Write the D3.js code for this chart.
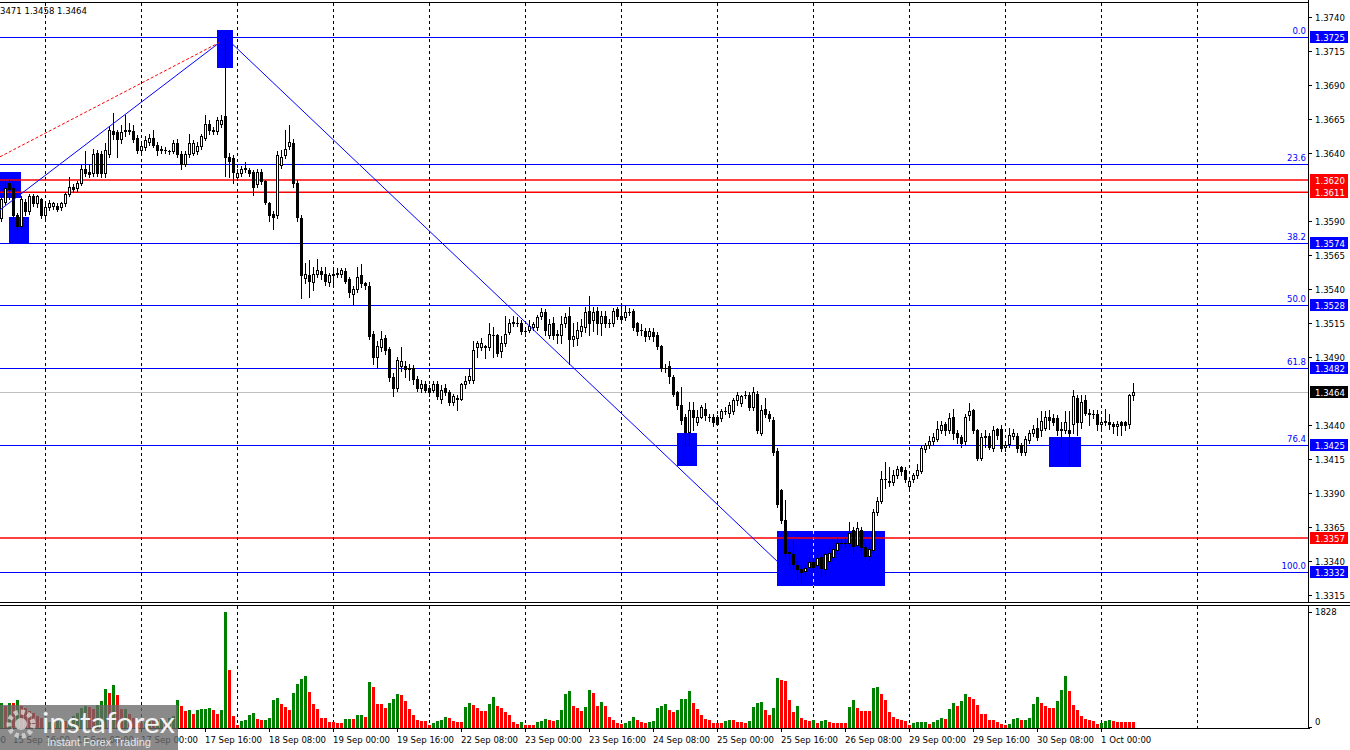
<!DOCTYPE html>
<html><head><meta charset="utf-8">
<script src="https://cdn.jsdelivr.net/npm/d3@7"></script>
<style>body{margin:0;background:#fff;overflow:hidden}svg{display:block}</style>
</head><body>
<svg id="chart" width="1350" height="750"></svg>
<script>
// ---------- DATA (GBPUSD H1, bar 0 = 16 Sep 2025 00:00) ----------
const firstBar = -11;
const ohlc = [
// 15 Sep 13:00 ..
[1.3592,1.3609,1.3590,1.3606],[1.3604,1.3619,1.3602,1.3614],[1.3618,1.3620,1.3606,1.3613],[1.3614,1.3617,1.3592,1.3594],
[1.3594,1.3596,1.3583,1.3586],[1.3586,1.3608,1.3584,1.3606],[1.3604,1.3606,1.3594,1.3597],[1.3597,1.3610,1.3595,1.3608],
[1.3608,1.3610,1.3601,1.3603],[1.3603,1.3609,1.3600,1.3608],[1.3606,1.3607,1.3592,1.3594],
// 16 Sep
[1.3594,1.3602,1.3590,1.3600],[1.3600,1.3605,1.3598,1.3603],[1.3601,1.3604,1.3599,1.3603],[1.3601,1.3603,1.3597,1.3599],
[1.3600,1.3604,1.3598,1.3603],[1.3603,1.3611,1.3601,1.3610],[1.3610,1.3622,1.3608,1.3615],[1.3615,1.3617,1.3611,1.3613],
[1.3614,1.3619,1.3612,1.3618],[1.3618,1.3631,1.3616,1.3628],[1.3628,1.3641,1.3623,1.3625],[1.3626,1.3632,1.3622,1.3624],
[1.3625,1.3643,1.3623,1.3639],[1.3640,1.3642,1.3623,1.3625],[1.3639,1.3641,1.3622,1.3625],[1.3625,1.3647,1.3622,1.3642],
[1.3639,1.3659,1.3637,1.3657],[1.3656,1.3669,1.3650,1.3654],[1.3655,1.3657,1.3637,1.3650],[1.3650,1.3660,1.3647,1.3655],
[1.3656,1.3668,1.3652,1.3657],[1.3656,1.3662,1.3654,1.3657],[1.3656,1.3660,1.3648,1.3650],[1.3651,1.3653,1.3640,1.3642],
// 17 Sep
[1.3642,1.3647,1.3638,1.3645],[1.3644,1.3652,1.3642,1.3649],[1.3648,1.3654,1.3646,1.3651],[1.3651,1.3657,1.3644,1.3646],
[1.3646,1.3648,1.3638,1.3642],[1.3643,1.3645,1.3640,1.3642],[1.3642,1.3644,1.3640,1.3642],[1.3641,1.3642,1.3639,1.3641],
[1.3641,1.3649,1.3640,1.3647],[1.3647,1.3650,1.3637,1.3639],[1.3639,1.3641,1.3628,1.3632],[1.3632,1.3641,1.3630,1.3639],
[1.3639,1.3654,1.3637,1.3647],[1.3640,1.3649,1.3638,1.3647],[1.3641,1.3648,1.3639,1.3645],[1.3645,1.3654,1.3643,1.3652],
[1.3651,1.3668,1.3649,1.3661],[1.3661,1.3664,1.3654,1.3657],[1.3657,1.3659,1.3654,1.3656],[1.3656,1.3666,1.3654,1.3664],
[1.3661,1.3668,1.3659,1.3664],[1.3667,1.3725,1.3623,1.3637],[1.3637,1.3640,1.3622,1.3634],[1.3636,1.3638,1.3618,1.3626],
// 18 Sep
[1.3622,1.3628,1.3620,1.3625],[1.3625,1.3630,1.3623,1.3628],[1.3628,1.3633,1.3626,1.3629],[1.3627,1.3629,1.3623,1.3625],
[1.3626,1.3627,1.3609,1.3615],[1.3617,1.3628,1.3615,1.3626],[1.3626,1.3628,1.3617,1.3619],[1.3619,1.3620,1.3602,1.3604],
[1.3603,1.3604,1.3590,1.3594],[1.3595,1.3597,1.3584,1.3593],[1.3594,1.3641,1.3592,1.3638],[1.3631,1.3642,1.3629,1.3637],
[1.3638,1.3657,1.3636,1.3643],[1.3645,1.3660,1.3643,1.3648],[1.3647,1.3650,1.3615,1.3618],[1.3618,1.3620,1.3590,1.3593],
[1.3592,1.3594,1.3533,1.3550],[1.3548,1.3559,1.3544,1.3551],[1.3550,1.3561,1.3534,1.3546],[1.3545,1.3556,1.3539,1.3551],
[1.3551,1.3562,1.3549,1.3554],[1.3553,1.3556,1.3547,1.3551],[1.3551,1.3556,1.3543,1.3546],[1.3545,1.3552,1.3542,1.3550],
// 19 Sep
[1.3550,1.3554,1.3542,1.3551],[1.3551,1.3555,1.3549,1.3552],[1.3551,1.3555,1.3549,1.3554],[1.3553,1.3555,1.3544,1.3546],
[1.3547,1.3549,1.3534,1.3538],[1.3536,1.3542,1.3529,1.3540],[1.3540,1.3556,1.3538,1.3549],[1.3550,1.3558,1.3541,1.3544],
[1.3544,1.3545,1.3540,1.3543],[1.3542,1.3545,1.3503,1.3505],[1.3507,1.3509,1.3485,1.3490],[1.3490,1.3502,1.3482,1.3498],
[1.3497,1.3509,1.3494,1.3503],[1.3504,1.3506,1.3492,1.3495],[1.3496,1.3497,1.3472,1.3475],[1.3475,1.3478,1.3461,1.3467],
[1.3467,1.3490,1.3465,1.3488],[1.3483,1.3497,1.3480,1.3487],[1.3483,1.3487,1.3475,1.3481],[1.3481,1.3485,1.3473,1.3482],
[1.3482,1.3484,1.3470,1.3474],[1.3474,1.3476,1.3465,1.3467],[1.3467,1.3473,1.3464,1.3470],[1.3470,1.3472,1.3464,1.3466],
// 22 Sep
[1.3467,1.3469,1.3461,1.3464],[1.3466,1.3472,1.3464,1.3470],[1.3470,1.3472,1.3459,1.3461],[1.3459,1.3469,1.3456,1.3466],
[1.3467,1.3470,1.3462,1.3464],[1.3464,1.3466,1.3455,1.3457],[1.3457,1.3463,1.3455,1.3461],[1.3460,1.3462,1.3451,1.3459],
[1.3459,1.3471,1.3458,1.3470],[1.3470,1.3476,1.3467,1.3472],[1.3473,1.3482,1.3471,1.3476],[1.3473,1.3502,1.3471,1.3495],
[1.3497,1.3502,1.3490,1.3500],[1.3497,1.3504,1.3495,1.3500],[1.3498,1.3499,1.3489,1.3497],[1.3497,1.3515,1.3495,1.3507],
[1.3506,1.3512,1.3490,1.3506],[1.3506,1.3507,1.3491,1.3493],[1.3494,1.3505,1.3490,1.3500],[1.3500,1.3520,1.3498,1.3507],
[1.3508,1.3518,1.3507,1.3515],[1.3516,1.3520,1.3513,1.3515],[1.3515,1.3519,1.3513,1.3515],[1.3515,1.3517,1.3507,1.3509],
// 23 Sep
[1.3509,1.3512,1.3505,1.3509],[1.3510,1.3517,1.3508,1.3513],[1.3512,1.3516,1.3510,1.3514],[1.3512,1.3521,1.3510,1.3519],
[1.3520,1.3526,1.3518,1.3523],[1.3523,1.3525,1.3506,1.3510],[1.3506,1.3518,1.3504,1.3514],[1.3515,1.3519,1.3503,1.3506],
[1.3507,1.3510,1.3500,1.3506],[1.3506,1.3520,1.3500,1.3514],[1.3515,1.3522,1.3512,1.3519],[1.3520,1.3527,1.3485,1.3503],
[1.3503,1.3515,1.3498,1.3505],[1.3504,1.3516,1.3499,1.3510],[1.3509,1.3518,1.3505,1.3513],[1.3512,1.3527,1.3508,1.3523],
[1.3524,1.3535,1.3506,1.3515],[1.3517,1.3527,1.3509,1.3523],[1.3524,1.3527,1.3507,1.3515],[1.3515,1.3524,1.3506,1.3520],
[1.3520,1.3524,1.3512,1.3515],[1.3515,1.3518,1.3512,1.3515],[1.3515,1.3526,1.3513,1.3524],[1.3525,1.3527,1.3518,1.3520],
// 24 Sep
[1.3520,1.3528,1.3515,1.3518],[1.3519,1.3528,1.3517,1.3523],[1.3523,1.3526,1.3521,1.3523],[1.3524,1.3525,1.3510,1.3512],
[1.3515,1.3516,1.3506,1.3509],[1.3510,1.3514,1.3506,1.3510],[1.3509,1.3511,1.3502,1.3505],[1.3505,1.3511,1.3503,1.3509],
[1.3508,1.3511,1.3502,1.3505],[1.3506,1.3508,1.3496,1.3498],[1.3498,1.3499,1.3480,1.3482],[1.3482,1.3485,1.3479,1.3482],
[1.3483,1.3487,1.3471,1.3476],[1.3475,1.3477,1.3461,1.3463],[1.3464,1.3465,1.3452,1.3455],[1.3455,1.3468,1.3441,1.3444],
[1.3446,1.3448,1.3425,1.3435],[1.3435,1.3457,1.3425,1.3451],[1.3451,1.3457,1.3436,1.3446],[1.3442,1.3451,1.3440,1.3446],
[1.3446,1.3455,1.3445,1.3453],[1.3452,1.3456,1.3444,1.3447],[1.3446,1.3448,1.3443,1.3446],[1.3446,1.3448,1.3439,1.3442],
// 25 Sep
[1.3446,1.3447,1.3440,1.3441],[1.3445,1.3452,1.3443,1.3450],[1.3450,1.3453,1.3448,1.3450],[1.3449,1.3457,1.3446,1.3455],
[1.3450,1.3460,1.3448,1.3458],[1.3458,1.3464,1.3455,1.3462],[1.3456,1.3462,1.3454,1.3461],[1.3462,1.3465,1.3460,1.3462],
[1.3462,1.3464,1.3451,1.3453],[1.3453,1.3468,1.3451,1.3464],[1.3463,1.3465,1.3434,1.3436],[1.3434,1.3455,1.3433,1.3451],
[1.3452,1.3460,1.3446,1.3448],[1.3448,1.3450,1.3443,1.3445],[1.3444,1.3446,1.3418,1.3420],[1.3421,1.3423,1.3380,1.3382],
[1.3392,1.3393,1.3368,1.3370],[1.3370,1.3385,1.3344,1.3346],[1.3347,1.3350,1.3338,1.3346],[1.3345,1.3355,1.3335,1.3338],
[1.3337,1.3340,1.3327,1.3334],[1.3334,1.3337,1.3324,1.3332],[1.3333,1.3337,1.3330,1.3335],[1.3336,1.3343,1.3333,1.3339],
// 26 Sep
[1.3339,1.3342,1.3332,1.3336],[1.3337,1.3345,1.3335,1.3342],[1.3343,1.3345,1.3329,1.3335],[1.3334,1.3347,1.3330,1.3345],
[1.3340,1.3350,1.3338,1.3346],[1.3343,1.3352,1.3341,1.3349],[1.3348,1.3357,1.3346,1.3353],[1.3353,1.3356,1.3350,1.3353],
[1.3353,1.3357,1.3350,1.3353],[1.3353,1.3369,1.3351,1.3361],[1.3363,1.3365,1.3345,1.3351],[1.3352,1.3369,1.3350,1.3364],
[1.3363,1.3365,1.3345,1.3350],[1.3350,1.3353,1.3342,1.3344],[1.3344,1.3352,1.3341,1.3349],[1.3348,1.3378,1.3346,1.3376],
[1.3376,1.3387,1.3374,1.3384],[1.3384,1.3406,1.3383,1.3400],[1.3400,1.3413,1.3394,1.3400],[1.3398,1.3409,1.3395,1.3399],
[1.3398,1.3407,1.3396,1.3403],[1.3403,1.3410,1.3401,1.3408],[1.3409,1.3410,1.3403,1.3406],[1.3407,1.3409,1.3398,1.3400],
// 29 Sep
[1.3395,1.3402,1.3392,1.3399],[1.3400,1.3405,1.3398,1.3403],[1.3403,1.3411,1.3401,1.3407],[1.3406,1.3425,1.3405,1.3423],
[1.3422,1.3427,1.3420,1.3425],[1.3425,1.3432,1.3423,1.3428],[1.3428,1.3434,1.3425,1.3431],[1.3430,1.3443,1.3428,1.3437],
[1.3436,1.3443,1.3434,1.3440],[1.3441,1.3442,1.3433,1.3436],[1.3436,1.3449,1.3434,1.3445],[1.3446,1.3452,1.3430,1.3434],
[1.3434,1.3436,1.3427,1.3431],[1.3431,1.3433,1.3424,1.3427],[1.3428,1.3448,1.3425,1.3446],[1.3447,1.3456,1.3444,1.3450],
[1.3451,1.3452,1.3434,1.3436],[1.3436,1.3437,1.3414,1.3416],[1.3416,1.3434,1.3414,1.3431],[1.3432,1.3436,1.3424,1.3431],
[1.3432,1.3434,1.3422,1.3424],[1.3423,1.3439,1.3421,1.3436],[1.3437,1.3438,1.3430,1.3433],[1.3437,1.3440,1.3421,1.3423],
// 30 Sep
[1.3424,1.3428,1.3421,1.3425],[1.3426,1.3438,1.3424,1.3433],[1.3432,1.3437,1.3430,1.3434],[1.3432,1.3434,1.3420,1.3423],
[1.3425,1.3427,1.3418,1.3420],[1.3420,1.3432,1.3418,1.3430],[1.3429,1.3436,1.3427,1.3434],[1.3434,1.3440,1.3432,1.3437],
[1.3438,1.3445,1.3429,1.3431],[1.3436,1.3450,1.3432,1.3443],[1.3438,1.3450,1.3436,1.3446],[1.3446,1.3451,1.3437,1.3444],
[1.3445,1.3448,1.3440,1.3442],[1.3445,1.3447,1.3433,1.3436],[1.3437,1.3442,1.3424,1.3436],[1.3436,1.3450,1.3434,1.3442],
[1.3436,1.3450,1.3411,1.3434],[1.3441,1.3466,1.3434,1.3461],[1.3460,1.3462,1.3433,1.3442],[1.3442,1.3462,1.3438,1.3457],
[1.3458,1.3462,1.3447,1.3449],[1.3449,1.3452,1.3440,1.3448],[1.3448,1.3451,1.3445,1.3448],[1.3448,1.3451,1.3436,1.3441],
// 1 Oct
[1.3441,1.3444,1.3438,1.3442],[1.3443,1.3452,1.3440,1.3442],[1.3442,1.3448,1.3437,1.3441],[1.3441,1.3442,1.3434,1.3439],
[1.3439,1.3443,1.3433,1.3441],[1.3442,1.3443,1.3433,1.3440],[1.3442,1.3443,1.3436,1.3440],[1.3441,1.3463,1.3438,1.3462],
[1.3462,1.3471,1.3458,1.3464]
];
const volume = [
380,340,380,375,425,330,300,260,230,180,140,
60,80,70,90,110,100,130,180,230,300,
330,320,280,350,420,607,545,675,503,285,
290,200,150,100,60,80,100,90,110,120,
100,150,180,425,337,250,270,208,270,285,
290,295,270,208,270,1828,908,171,36,88,
104,192,223,130,104,119,145,425,457,363,
311,270,535,690,768,815,555,363,285,140,
139,78,77,67,66,130,131,129,192,193,
156,711,633,363,360,296,379,452,519,510,
415,285,192,104,100,98,36,62,88,114,
156,140,88,86,84,322,379,348,296,259,
254,363,477,337,301,233,192,78,52,78,
36,35,34,78,93,130,104,103,119,270,
519,571,337,296,259,311,587,535,337,400,
337,156,104,67,52,67,88,166,104,78,
67,80,93,296,327,363,270,244,270,441,
445,566,379,285,192,130,104,67,66,65,
88,114,110,78,77,67,88,322,379,400,
270,192,301,778,752,727,431,244,337,145,
119,88,104,67,93,114,78,67,66,65,
64,322,425,301,259,258,257,612,633,519,
425,244,166,130,104,103,36,62,78,79,
80,52,78,104,145,130,285,379,337,415,
529,477,441,348,208,207,119,104,78,52,
36,52,130,145,104,119,145,363,477,389,
337,296,295,415,587,815,571,353,275,171,
130,104,88,52,67,88,119,88,87,86,
85,84,83
];
const fibNames  = ["0.0","23.6","38.2","50.0","61.8","76.4","100.0"];
const fibPrices = [1.3725,1.3632,1.3574,1.3528,1.3482,1.3425,1.3332];
const fibTagged = [true,false,true,true,true,true,true];
const redLevels = [1.3620,1.3611,1.3357];
const bidPrice = 1.3464;
const priceTicks = [1.3740,1.3715,1.3690,1.3665,1.3640,1.3590,1.3565,1.3540,1.3515,1.3490,1.3440,1.3415,1.3390,1.3365,1.3340,1.3315];
const volTicks = [1828, 0];
const headerText = "3471 1.3458 1.3464";
const gridDays = ["2025-09-16","2025-09-17","2025-09-18","2025-09-19","2025-09-22","2025-09-23","2025-09-24","2025-09-25","2025-09-26","2025-09-29","2025-09-30","2025-10-01","2025-10-02"];
// rectangles: [bar from, bar to, price top, price bottom]
const boxes = [[-12,-6,1.3626,1.3607],[-9,-4,1.3593,1.3573],[43,47,1.3730,1.3702],[158,163,1.3434,1.3410],[183,210,1.3362,1.3322],[251,259,1.3431,1.3409]];
// trend lines: [bar1, price1, bar2, price2]
const blueLines = [[45,1.3725,183,1.3340],[-11.25,1.3598,45,1.3724]];
const redDotted = [[-11.25,1.3637,44.25,1.3722]];

// ---------- helpers ----------
const HOUR = 3600000, T0 = Date.UTC(2025,8,16,0,0);
function barTime(b){
  let t=T0, n=Math.abs(b), s=b>=0?1:-1;
  while(n>0){ t+=s*HOUR; const d=new Date(t).getUTCDay(); if(d!==0&&d!==6) n--; }
  return new Date(t);
}
function barOf(date){
  let b=0; while(barTime(b).getTime()<date.getTime()) b+=24; return b;
}
const fmt = d3.utcFormat("%-d %b %H:%M");

const svg = d3.select("#chart");
const W=1350, AX=1308;
const x = d3.scaleLinear().domain([-11.25, 315.75]).range([0, AX]);
const y = d3.scaleLinear().domain([1.3725, 1.3332]).range([37, 572]);
const vy = d3.scaleLinear().domain([0, 1828]).range([727, 612]);
const FONT = "'DejaVu Sans Condensed','DejaVu Sans',sans-serif";

svg.append("rect").attr("width",W).attr("height",750).attr("fill","#fff");
svg.append("defs").html('<clipPath id="mainClip"><rect x="0" y="3" width="1308" height="599"/></clipPath><clipPath id="volClip"><rect x="0" y="606" width="1308" height="122"/></clipPath>');

const main = svg.append("g").attr("clip-path","url(#mainClip)").attr("shape-rendering","crispEdges");
const vol  = svg.append("g").attr("clip-path","url(#volClip)").attr("shape-rendering","crispEdges");

// boxes
const boxPix = boxes.map(d=>({x0:x(d[0]),x1:x(d[1]),y0:y(d[2]),y1:y(d[3])}));
main.selectAll("rect.box").data(boxPix).join("rect").attr("class","box")
  .attr("x",d=>d.x0).attr("width",d=>d.x1-d.x0)
  .attr("y",d=>d.y0).attr("height",d=>d.y1-d.y0).attr("fill","#0000ff");

// vertical grid: black dashes, shown inverted (yellow) over the blue boxes
const gridBars = gridDays.map(s=>barOf(new Date(s+"T00:00:00Z")));
[[main,3,602],[vol,606,728]].forEach(([g,y0,y1])=>{
  g.selectAll(null).data(gridBars).join("line")
   .attr("x1",b=>Math.round(x(b))+0.5).attr("x2",b=>Math.round(x(b))+0.5)
   .attr("y1",y0).attr("y2",y1).attr("stroke","#000").attr("stroke-dasharray","3,3");
});
gridBars.forEach(b=>{
  const gx=Math.round(x(b))+0.5;
  boxPix.forEach(bx=>{
    if(gx>bx.x0 && gx<bx.x1){
      const off=((bx.y0-3)%6+6)%6;
      main.append("line").attr("x1",gx).attr("x2",gx).attr("y1",bx.y0).attr("y2",bx.y1)
        .attr("stroke","#ffff00").attr("stroke-dasharray","3,3").attr("stroke-dashoffset",off);
    }
  });
});

// horizontal levels
function hline(p,color){
  const yy=Math.round(y(p))+0.5;
  main.append("line").attr("x1",0).attr("x2",AX).attr("y1",yy).attr("y2",yy).attr("stroke",color).attr("stroke-width",1);
}
hline(bidPrice,"#c0c0c0");
fibPrices.forEach(p=>hline(p,"#0000ff"));
redLevels.forEach(p=>{
  const yy=y(p);
  main.append("line").attr("x1",0).attr("x2",AX).attr("y1",yy).attr("y2",yy).attr("stroke","#ff0000").attr("stroke-width",1.6).attr("shape-rendering","auto");
});
// trend lines
const tl = svg.append("g").attr("clip-path","url(#mainClip)");
tl.selectAll(null).data(blueLines).join("line")
  .attr("x1",d=>x(d[0])).attr("y1",d=>y(d[1])).attr("x2",d=>x(d[2])).attr("y2",d=>y(d[3]))
  .attr("stroke","#0000ff").attr("stroke-width",1);
tl.selectAll(null).data(redDotted).join("line")
  .attr("x1",d=>x(d[0])).attr("y1",d=>y(d[1])).attr("x2",d=>x(d[2])).attr("y2",d=>y(d[3]))
  .attr("stroke","#ff0000").attr("stroke-width",1).attr("stroke-dasharray","3,2");

// fib labels
main.selectAll(null).data(fibPrices).join("text")
  .attr("x",AX-2).attr("y",p=>y(p)-3).attr("text-anchor","end")
  .attr("font-family",FONT).attr("font-size",9.5).attr("fill","#0000ff")
  .text((p,i)=>fibNames[i]);

// candles
const candles = main.append("g");
ohlc.forEach((c,i)=>{
  const b=firstBar+i, cx=Math.round(x(b));
  const [o,h,l,cl]=c;
  candles.append("line").attr("x1",cx+0.5).attr("x2",cx+0.5)
    .attr("y1",Math.round(y(h))).attr("y2",Math.round(y(l))+1).attr("stroke","#000");
  const top=Math.round(y(Math.max(o,cl))), bot=Math.round(y(Math.min(o,cl)));
  if(bot-top<1){
    candles.append("line").attr("x1",cx-1).attr("x2",cx+2).attr("y1",top+0.5).attr("y2",top+0.5).attr("stroke","#000");
  } else {
    candles.append("rect").attr("x",cx-0.5).attr("width",2).attr("y",top+0.5).attr("height",bot-top)
      .attr("fill",cl>=o?"#fff":"#000").attr("stroke","#000").attr("stroke-width",1);
  }
});

// volumes
vol.selectAll("rect.v").data(volume).join("rect").attr("class","v")
  .attr("x",(v,i)=>Math.round(x(firstBar+i))-1).attr("width",3)
  .attr("y",v=>Math.round(vy(v))).attr("height",v=>727-Math.round(vy(v))+1)
  .attr("fill",(v,i)=>(i===0||v>volume[i-1])?"#008000":"#ff0000");

// frames
const fr = svg.append("g").attr("stroke","#000").attr("shape-rendering","crispEdges");
fr.append("line").attr("x1",0).attr("x2",AX).attr("y1",2.5).attr("y2",2.5);
fr.append("line").attr("x1",0).attr("x2",W).attr("y1",602.5).attr("y2",602.5);
fr.append("line").attr("x1",0).attr("x2",W).attr("y1",605.5).attr("y2",605.5);
fr.append("line").attr("x1",0).attr("x2",AX+2).attr("y1",728.5).attr("y2",728.5);
fr.append("line").attr("x1",AX+0.5).attr("x2",AX+0.5).attr("y1",0).attr("y2",602);
fr.append("line").attr("x1",AX+0.5).attr("x2",AX+0.5).attr("y1",606).attr("y2",729);

// price axis
const pa = svg.append("g").attr("font-family",FONT).attr("font-size",9.5);
priceTicks.forEach(p=>{
  const yy=Math.round(y(p))+0.5;
  pa.append("line").attr("x1",AX+1).attr("x2",AX+4).attr("y1",yy).attr("y2",yy).attr("stroke","#000").attr("shape-rendering","crispEdges");
  pa.append("text").attr("x",AX+7).attr("y",yy).attr("dy","0.35em").attr("fill","#000").text(p.toFixed(4));
});
function tag(p,bg){
  const yy=Math.round(y(p));
  pa.append("rect").attr("x",AX+2).attr("y",yy-6).attr("width",38).attr("height",12).attr("fill",bg);
  pa.append("text").attr("x",AX+7).attr("y",yy+0.5).attr("dy","0.35em").attr("fill","#fff").text(p.toFixed(4));
}
fibPrices.forEach((p,i)=>{ if(fibTagged[i]) tag(p,"#0000ff"); });
redLevels.forEach(p=>tag(p,"#ff0000"));
tag(bidPrice,"#000000");

// volume axis
volTicks.forEach(v=>{
  const yy = v===0 ? 722 : Math.round(vy(v));
  pa.append("line").attr("x1",AX+1).attr("x2",AX+4).attr("y1",Math.round(vy(v))+0.5).attr("y2",Math.round(vy(v))+0.5).attr("stroke","#000").attr("shape-rendering","crispEdges");
  pa.append("text").attr("x",AX+7).attr("y",yy).attr("dy","0.35em").attr("fill","#000").text(v);
});

// time axis labels
const lastBar = firstBar+ohlc.length-1;
const labelBars = d3.range(-24, lastBar+1).filter(b=>((b%16)+16)%16===8);
const ta = svg.append("g").attr("font-family",FONT).attr("font-size",9.5);
labelBars.forEach(b=>{
  const xx=Math.round(x(b));
  ta.append("line").attr("x1",xx+0.5).attr("x2",xx+0.5).attr("y1",729).attr("y2",732).attr("stroke","#000").attr("shape-rendering","crispEdges");
  ta.append("text").attr("x",xx).attr("y",743).attr("fill","#000").text(fmt(barTime(b)));
});

// header
svg.append("text").attr("x",0).attr("y",14).attr("font-family",FONT).attr("font-size",9.5).attr("fill","#000").text(headerText);

// watermark
const wm = svg.append("g");
wm.append("rect").attr("x",0).attr("y",705).attr("width",178).attr("height",45).attr("fill","rgb(105,105,105)").attr("opacity",0.78);
wm.append("circle").attr("cx",21).attr("cy",724).attr("r",12).attr("fill","none").attr("stroke","#d8d8d8").attr("stroke-width",5).attr("stroke-dasharray","4,3").attr("opacity",0.8);
wm.append("circle").attr("cx",21).attr("cy",724).attr("r",6).attr("fill","#d8d8d8").attr("opacity",0.8);
wm.append("text").attr("x",42).attr("y",733).attr("font-family","Lato,'Open Sans',sans-serif").attr("font-size",29).attr("fill","#f2f2f2").attr("textLength",133).attr("lengthAdjust","spacingAndGlyphs").text("instaforex");
wm.append("text").attr("x",47).attr("y",746).attr("font-family","'Liberation Sans',Arial,sans-serif").attr("font-size",11).attr("fill","#e6e6e6").text("Instant Forex Trading");
</script>
</body></html>
